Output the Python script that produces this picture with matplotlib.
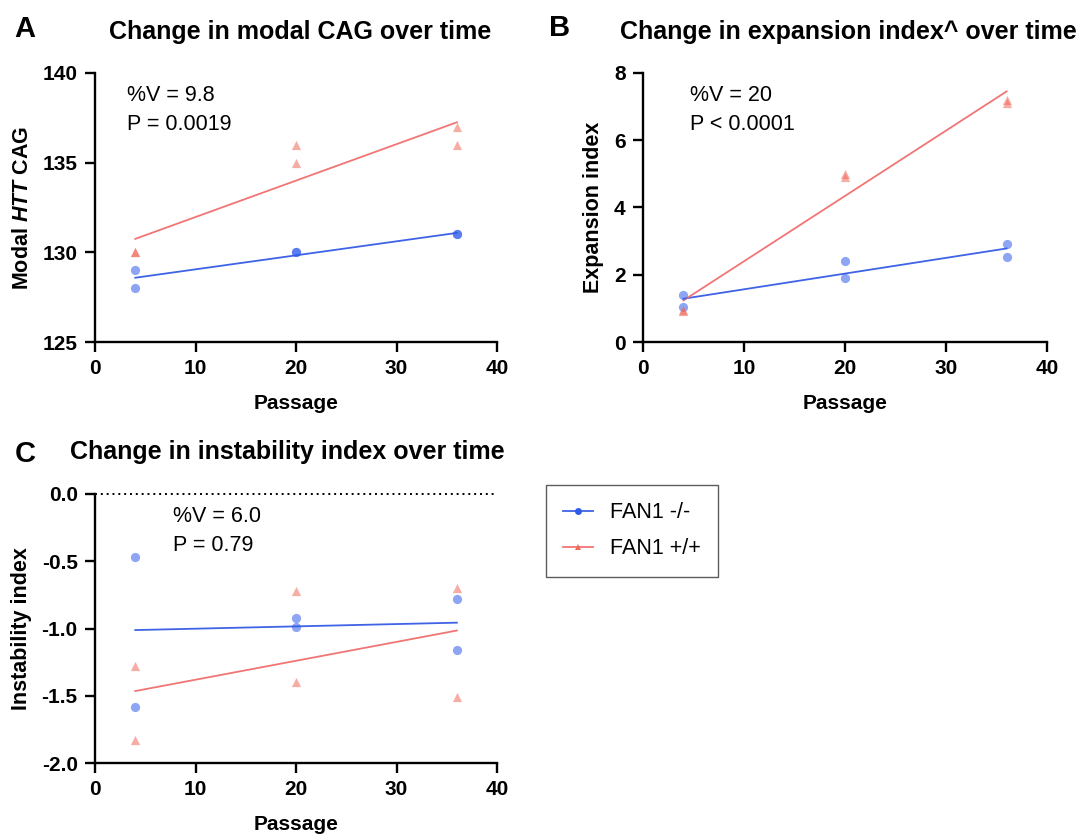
import numpy as np
import matplotlib
matplotlib.use("Agg")
import matplotlib.pyplot as plt
from matplotlib.lines import Line2D

plt.rcParams['font.family'] = ['Liberation Sans', 'DejaVu Sans']
plt.rcParams['mathtext.fontset'] = 'custom'
plt.rcParams['mathtext.rm'] = 'Liberation Sans:bold'
plt.rcParams['mathtext.it'] = 'Liberation Sans:italic:bold'
plt.rcParams['mathtext.bf'] = 'Liberation Sans:bold'

# passage numbers (two replicates each)
passage = [4, 4, 20, 20, 36, 36]

# A: modal CAG
cag_ko = [129, 128, 130, 130, 131, 131]
cag_wt = [130, 130, 136, 135, 137, 136]
# B: expansion index
exp_ko = [1.40, 1.05, 2.42, 1.90, 2.92, 2.52]
exp_wt = [0.95, 0.92, 5.00, 4.90, 7.20, 7.10]
# C: instability index
ins_ko = [-0.47, -1.58, -0.925, -0.99, -0.78, -1.16]
ins_wt = [-1.28, -1.83, -0.72, -1.40, -0.70, -1.51]

stats_a = "%V = 9.8\nP = 0.0019"
stats_b = "%V = 20\nP < 0.0001"
stats_c = "%V = 6.0\nP = 0.79"

blue = '#2F5BEA'
red = '#F06A5A'
blue_line = '#3F63E6'
red_line = '#F27575'

fig = plt.figure(figsize=(10.9, 8.35), dpi=100)
axA = fig.add_axes([0.0872, 0.5904, 0.3688, 0.3222])
axB = fig.add_axes([0.590, 0.5904, 0.3706, 0.3222])
axC = fig.add_axes([0.0872, 0.0862, 0.3688, 0.3222])


def panel(ax, ko, wt, ylim, yticks, ylabel, stats, tx):
    x = np.array(passage)
    ax.scatter(x, ko, s=44, color=blue, alpha=0.55, marker='o', lw=0, zorder=3)
    ax.scatter(x, wt, s=44, color=red, alpha=0.55, marker='^', lw=0, zorder=3)
    xs = np.array([4, 36])
    k = np.polyfit(x, ko, 1)
    ax.plot(xs, np.polyval(k, xs), color=blue_line, lw=1.3, zorder=2)
    k = np.polyfit(x, wt, 1)
    ax.plot(xs, np.polyval(k, xs), color=red_line, lw=1.3, zorder=2)
    ax.set_xlim(0, 40)
    ax.set_ylim(*ylim)
    ax.set_xticks([0, 10, 20, 30, 40])
    ax.set_yticks(yticks)
    for s in ['top', 'right']:
        ax.spines[s].set_visible(False)
    for s in ['left', 'bottom']:
        ax.spines[s].set_linewidth(1.7)
    ax.tick_params(width=1.7, length=7.5, labelsize=15, pad=5)
    for lab in ax.get_xticklabels() + ax.get_yticklabels():
        lab.set_fontweight('bold')
    ax.set_xlabel('Passage', fontsize=15, fontweight='bold', labelpad=11)
    ax.set_ylabel(ylabel, fontsize=15.5, fontweight='bold', labelpad=7)
    ax.text(tx, 0.955, stats, transform=ax.transAxes, fontsize=15.5,
            va='top', ha='left', linespacing=1.5)


panel(axA, cag_ko, cag_wt, (125, 140), [125, 130, 135, 140],
      r'Modal $\mathit{HTT}$ CAG', stats_a, 0.08)
panel(axB, exp_ko, exp_wt, (0, 8), [0, 2, 4, 6, 8],
      'Expansion index', stats_b, 0.116)
panel(axC, ins_ko, ins_wt, (-2.0, 0.0), [-2.0, -1.5, -1.0, -0.5, 0.0],
      'Instability index', stats_c, 0.194)
axC.set_yticklabels(['-2.0', '-1.5', '-1.0', '-0.5', '0.0'])
for lab in axC.get_yticklabels():
    lab.set_fontweight('bold')
axC.axhline(0, color='black', ls=(0, (1, 2)), lw=1.4, zorder=1, clip_on=False)

fig.text(0.275, 0.962, 'Change in modal CAG over time', fontsize=18,
         fontweight='bold', ha='center', va='center')
fig.text(0.778, 0.962, 'Change in expansion index^ over time', fontsize=18,
         fontweight='bold', ha='center', va='center')
fig.text(0.264, 0.459, 'Change in instability index over time', fontsize=18,
         fontweight='bold', ha='center', va='center')
fig.text(0.023, 0.965, 'A', fontsize=21, fontweight='bold', ha='center', va='center')
fig.text(0.513, 0.966, 'B', fontsize=21, fontweight='bold', ha='center', va='center')
fig.text(0.023, 0.456, 'C', fontsize=21, fontweight='bold', ha='center', va='center')

handles = [Line2D([], [], color=blue_line, lw=1.3, marker='o', ms=5,
                  markerfacecolor=blue, markeredgewidth=0),
           Line2D([], [], color=red_line, lw=1.3, marker='^', ms=5,
                  markerfacecolor=red, markeredgewidth=0)]
leg = fig.legend(handles, ['FAN1 -/-', 'FAN1 +/+'], loc='upper left',
                 bbox_to_anchor=(0.501, 0.419), fontsize=15.5, frameon=True,
                 fancybox=False, edgecolor='#333333', handlelength=1.4,
                 borderpad=0.8, labelspacing=0.7, handletextpad=0.75,
                 borderaxespad=0)
leg.get_frame().set_linewidth(1.0)

fig.savefig('out.png', dpi=100)
